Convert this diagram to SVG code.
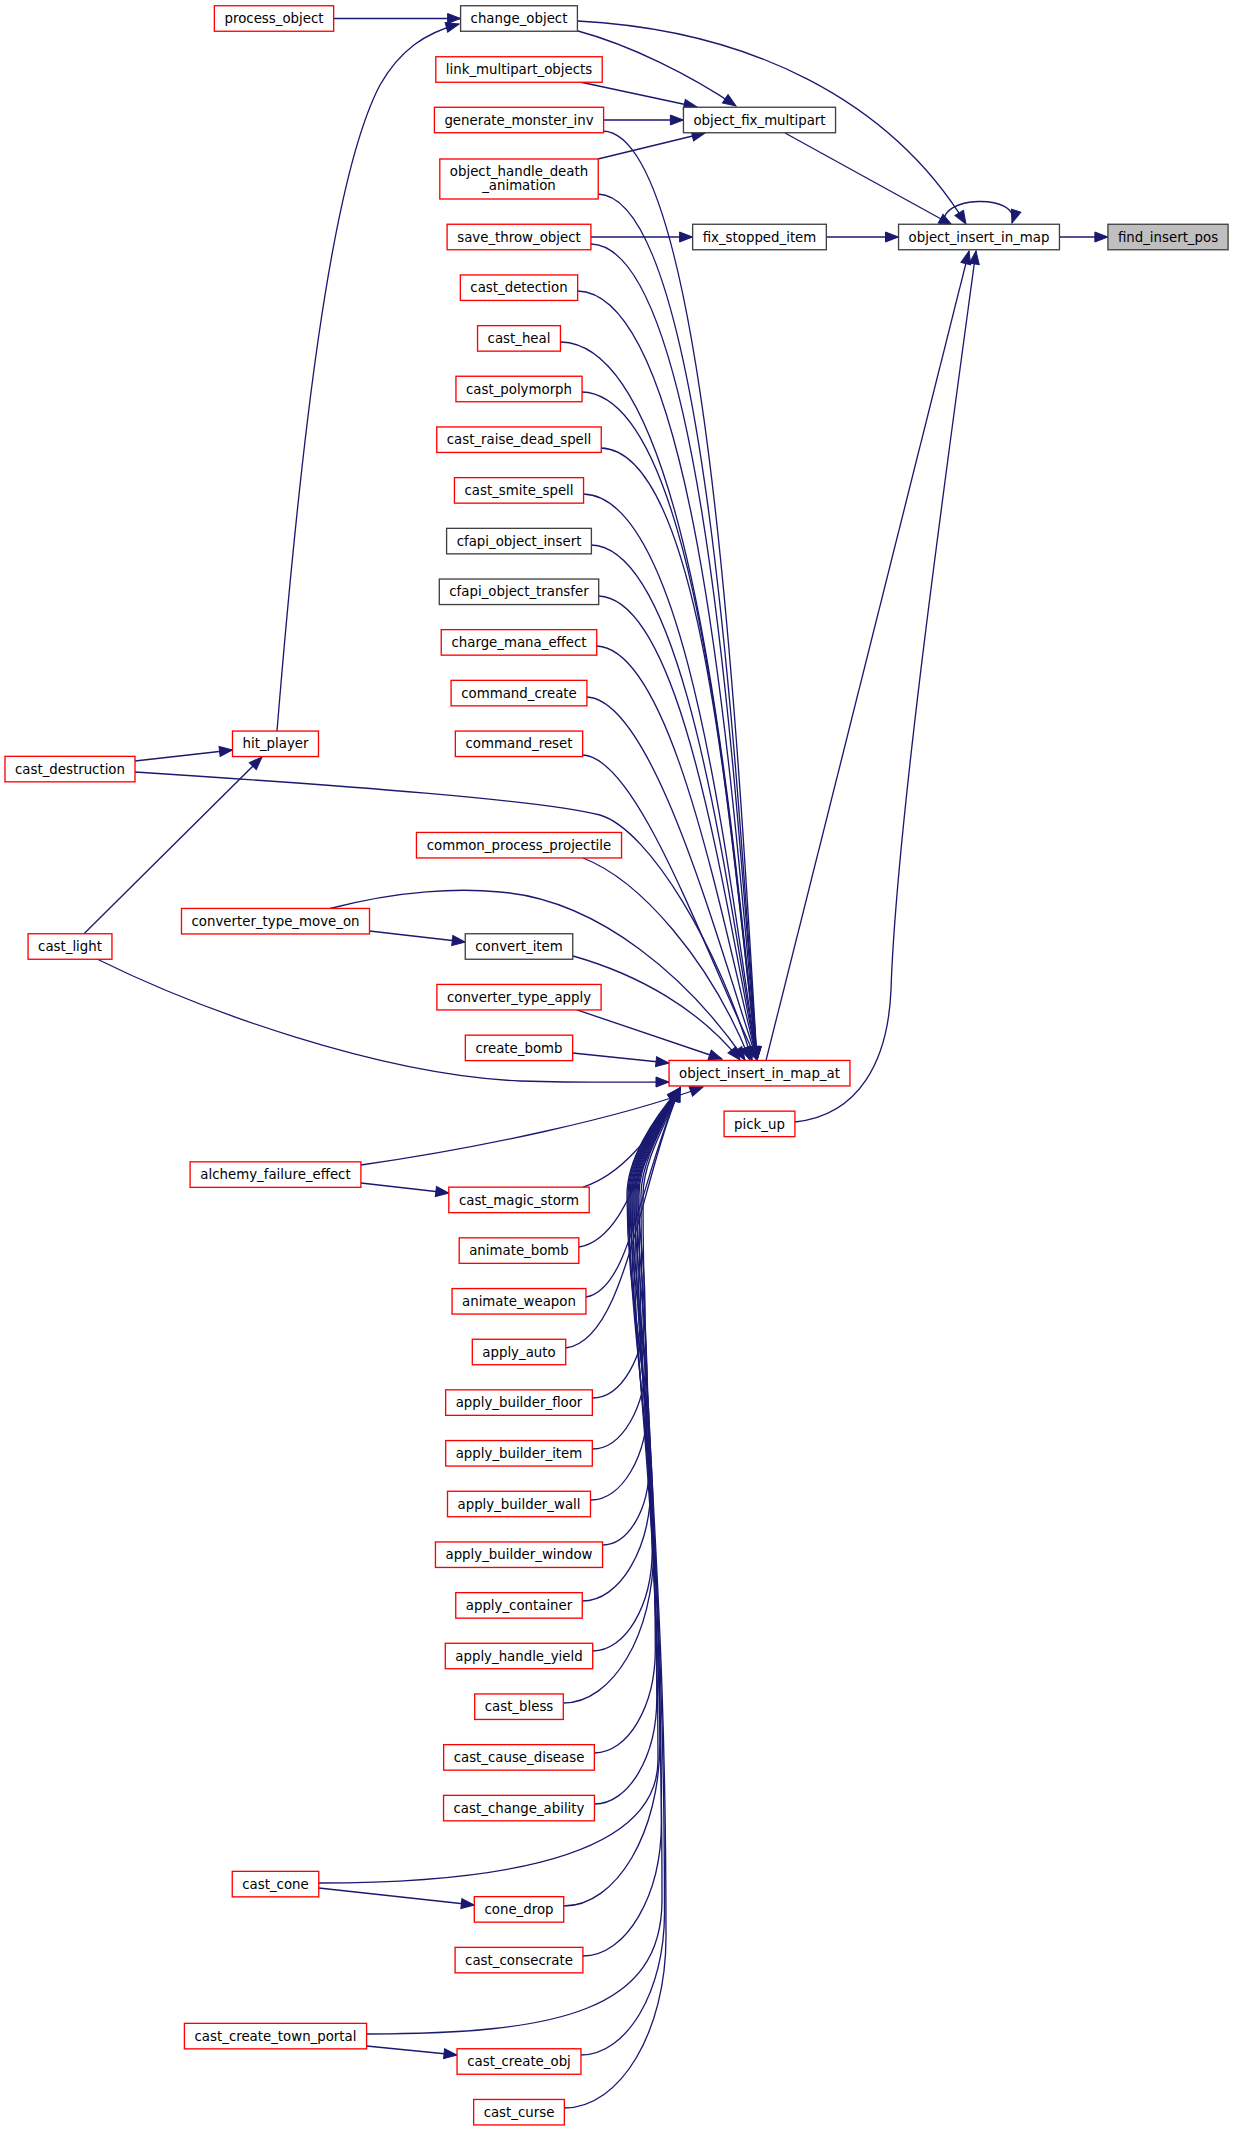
<svg xmlns="http://www.w3.org/2000/svg" width="1233" height="2131" viewBox="0 0 1233 2131">
<style>
rect{fill:#fff;stroke:#ff0000;stroke-width:1.33}
.k rect{stroke:#404040}
.g rect{fill:#bfbfbf}
text{font-family:"DejaVu Sans","Liberation Sans",sans-serif;font-size:13.33px;text-anchor:middle;fill:#000}
.e path{fill:none;stroke:#191970;stroke-width:1.33;marker-end:url(#a)}
</style>
<defs>
<marker id="a" markerUnits="userSpaceOnUse" markerWidth="15" markerHeight="12" viewBox="-1 -1 15 12" refX="13" refY="5" orient="auto" overflow="visible">
<path d="M0,0 L13,5 L0,10 Z" fill="#191970" stroke="#191970" stroke-width="1"/>
</marker>
</defs>
<rect x="0" y="0" width="1233" height="2131" style="fill:#fff;stroke:none"/>
<g class="e" id="edges">
<path d="M1059.5,237 L1107.9,237"/>
<path d="M826.4,237 L898.5,237"/>
<path d="M785,133 L952,225"/>
<path d="M577.4,21 C750,30 890,100 966,224"/>
<path d="M945,225 C935,195 1022,193 1012,223"/>
<path d="M766,1060.5 L969,251"/>
<path d="M794.9,1122 C860,1115 888,1060 891,990 C896,830 945,480 976,251"/>
<path d="M578,31 C630,45 690,75 736,106"/>
<path d="M580,82 L697,107"/>
<path d="M603.6,120 L683.4,120"/>
<path d="M598,159 L705,133"/>
<path d="M590.9,237 L692.6,237"/>
<path d="M333.7,18.5 L460.6,18.5"/>
<path d="M277,731 C300,450 330,180 380,85 C400,50 425,33 459,24"/>
<path d="M135,761 L232.5,750"/>
<path d="M84,933.7 L262,757"/>
<path d="M603,131 C705,134 737,725 757,1060"/>
<path d="M598,194 C703,197 735,748 757,1060"/>
<path d="M591,244 C701,247 734,766 757,1060"/>
<path d="M577.6,291 C696,294 732,783 757,1060"/>
<path d="M561,342 C690,345 729,801 757,1060"/>
<path d="M582,392 C697,395 729,819 757,1060"/>
<path d="M601,448 C704,451 730,839 757,1060"/>
<path d="M583.5,494 C686,497 726,856 757,1060"/>
<path d="M591.4,545 C684,548 725,874 757,1060"/>
<path d="M598.7,596 C682,599 723,892 757,1060"/>
<path d="M596.8,646 C671,649 720,910 757,1060"/>
<path d="M586.9,697 C652,700 714,929 757,1060"/>
<path d="M583,755 C638,758 704,950 757,1060"/>
<path d="M135,772 C350,786 540,800 600,815 C650,830 720,950 752,1060"/>
<path d="M583,858 C640,880 710,960 750,1060"/>
<path d="M330,908.5 C400,890 460,888 500,892 C600,900 690,980 745,1060"/>
<path d="M369.5,931 L465.2,942"/>
<path d="M573,956 C640,975 700,1010 740,1060"/>
<path d="M577,1009.9 L722,1059"/>
<path d="M572.6,1053 L669,1063"/>
<path d="M97,959 C200,1010 380,1075 520,1081 C590,1083 640,1082 669,1082"/>
<path d="M361,1165 C480,1148 620,1118 703,1087"/>
<path d="M361,1183 L448.8,1193"/>
<path d="M583,1187.2 C620,1175 650,1140 680,1088"/>
<path d="M578.8,1247 C625,1240 640,1160 680,1088"/>
<path d="M586,1297 C630,1290 640,1180 680,1088"/>
<path d="M565.7,1348 C625,1340 638,1190 680,1088"/>
<path d="M592.3,1398 C621,1398 645,1357.5 645,1308 C645,1251.5 638,1234.5 638,1195 C638,1160 663,1120 680,1088"/>
<path d="M592.3,1449 C621.7,1449 646,1407.6 646,1357 C646,1276 636,1251.7 636,1195 C636,1160 661,1120 680,1088"/>
<path d="M590.5,1500 C622,1500 647.6,1456.4 647.6,1403 C647.6,1299 634,1267.8 634,1195 C634,1160 659,1120 680,1088"/>
<path d="M602.5,1545 C628.2,1545 649.2,1509.5 649.2,1466 C649.2,1330.5 632,1289.9 632,1195 C632,1160 657,1120 680,1088"/>
<path d="M582.3,1601 C620,1601 650.7,1548.8 650.7,1485 C650.7,1340 630,1296.5 630,1195 C630,1160 655,1120 680,1088"/>
<path d="M592.7,1651 C625.4,1651 652.2,1605.5 652.2,1550 C652.2,1372.5 628,1319 628,1195 C628,1160 653,1120 680,1088"/>
<path d="M563.3,1703 C613,1703 653.7,1633.7 653.7,1549 C653.7,1372 627,1319 627,1195 C627,1160 652,1120 680,1088"/>
<path d="M594.4,1753 C627.9,1753 655.3,1706.4 655.3,1649.5 C655.3,1422 629,1354 629,1195 C629,1160 654,1120 680,1088"/>
<path d="M594.5,1804 C628.8,1804 656.8,1756.3 656.8,1698 C656.8,1446.5 631,1371 631,1195 C631,1160 656,1120 680,1088"/>
<path d="M318.8,1883 C520,1883 658,1850 658,1760 C658,1477.5 633,1393 633,1195 C633,1160 658,1120 680,1088"/>
<path d="M318.8,1888 L474.3,1905"/>
<path d="M563.7,1906 C616.6,1906 659.9,1832.4 659.9,1742.5 C659.9,1468.8 635,1386.6 635,1195 C635,1160 660,1120 680,1088"/>
<path d="M582.9,1956 C626.1,1956 661.4,1896 661.4,1822.5 C661.4,1508.8 637,1414.6 637,1195 C637,1160 662,1120 680,1088"/>
<path d="M366.6,2034 C560,2034 662,2010 662,1900 C662,1547.5 639,1441.8 639,1195 C639,1160 664,1120 680,1088"/>
<path d="M366.6,2046 L457,2055"/>
<path d="M581,2055 C627,2055 664.5,1991 664.5,1913 C664.5,1554 641,1446 641,1195 C641,1160 666,1120 680,1088"/>
<path d="M564.3,2108 C620.7,2108 666,2031 666,1937 C666,1566 643,1454.7 643,1195 C643,1160 668,1120 680,1088"/>
</g>
<g id="find_insert_pos" class="k g"><rect x="1107.9" y="224.25" width="120.2" height="25.5"/><text x="1168" y="241.6">find_insert_pos</text></g>
<g id="object_insert_in_map" class="k"><rect x="898.55" y="224.25" width="160.9" height="25.5"/><text x="979" y="241.6">object_insert_in_map</text></g>
<g id="fix_stopped_item" class="k"><rect x="692.65" y="224.25" width="133.7" height="25.5"/><text x="759.5" y="241.6">fix_stopped_item</text></g>
<g id="object_fix_multipart" class="k"><rect x="683.45" y="107.25" width="152.1" height="25.5"/><text x="759.5" y="124.6">object_fix_multipart</text></g>
<g id="object_insert_in_map_at"><rect x="669.05" y="1060.45" width="180.9" height="25.5"/><text x="759.5" y="1077.8">object_insert_in_map_at</text></g>
<g id="pick_up"><rect x="724.1" y="1111.15" width="70.8" height="25.5"/><text x="759.5" y="1128.5">pick_up</text></g>
<g id="process_object"><rect x="214.35" y="5.75" width="119.3" height="25.5"/><text x="274" y="23.1">process_object</text></g>
<g id="change_object" class="k"><rect x="460.6" y="5.75" width="116.8" height="25.5"/><text x="519" y="23.1">change_object</text></g>
<g id="link_multipart_objects"><rect x="435.8" y="56.75" width="166.4" height="25.5"/><text x="519" y="74.1">link_multipart_objects</text></g>
<g id="generate_monster_inv"><rect x="434.4" y="107.25" width="169.2" height="25.5"/><text x="519" y="124.6">generate_monster_inv</text></g>
<g id="object_handle_death_animation"><rect x="439.8" y="159" width="158.4" height="40"/><text x="519" y="175.5">object_handle_death</text><text x="519" y="189.5">_animation</text></g>
<g id="save_throw_object"><rect x="447.1" y="224.25" width="143.8" height="25.5"/><text x="519" y="241.6">save_throw_object</text></g>
<g id="cast_detection"><rect x="460.35" y="274.95" width="117.3" height="25.5"/><text x="519" y="292.3">cast_detection</text></g>
<g id="cast_heal"><rect x="477.55" y="325.65" width="82.9" height="25.5"/><text x="519" y="343">cast_heal</text></g>
<g id="cast_polymorph"><rect x="455.95" y="376.25" width="126.1" height="25.5"/><text x="519" y="393.6">cast_polymorph</text></g>
<g id="cast_raise_dead_spell"><rect x="436.75" y="426.95" width="164.5" height="25.5"/><text x="519" y="444.3">cast_raise_dead_spell</text></g>
<g id="cast_smite_spell"><rect x="454.45" y="477.65" width="129.1" height="25.5"/><text x="519" y="495">cast_smite_spell</text></g>
<g id="cfapi_object_insert" class="k"><rect x="446.6" y="528.35" width="144.8" height="25.5"/><text x="519" y="545.7">cfapi_object_insert</text></g>
<g id="cfapi_object_transfer" class="k"><rect x="439.3" y="579.05" width="159.4" height="25.5"/><text x="519" y="596.4">cfapi_object_transfer</text></g>
<g id="charge_mana_effect"><rect x="441.25" y="629.65" width="155.5" height="25.5"/><text x="519" y="647">charge_mana_effect</text></g>
<g id="command_create"><rect x="451.1" y="680.35" width="135.8" height="25.5"/><text x="519" y="697.7">command_create</text></g>
<g id="command_reset"><rect x="455.35" y="731.05" width="127.3" height="25.5"/><text x="519" y="748.4">command_reset</text></g>
<g id="hit_player"><rect x="232.5" y="731.05" width="86" height="25.5"/><text x="275.5" y="748.4">hit_player</text></g>
<g id="cast_destruction"><rect x="5" y="756.35" width="130" height="25.5"/><text x="70" y="773.7">cast_destruction</text></g>
<g id="common_process_projectile"><rect x="416.45" y="832.45" width="205.1" height="25.5"/><text x="519" y="849.8">common_process_projectile</text></g>
<g id="converter_type_move_on"><rect x="181.5" y="908.45" width="188" height="25.5"/><text x="275.5" y="925.8">converter_type_move_on</text></g>
<g id="convert_item" class="k"><rect x="465.25" y="933.75" width="107.5" height="25.5"/><text x="519" y="951.1">convert_item</text></g>
<g id="cast_light"><rect x="28.05" y="933.75" width="83.9" height="25.5"/><text x="70" y="951.1">cast_light</text></g>
<g id="converter_type_apply"><rect x="436.9" y="984.45" width="164.2" height="25.5"/><text x="519" y="1001.8">converter_type_apply</text></g>
<g id="create_bomb"><rect x="465.35" y="1035.15" width="107.3" height="25.5"/><text x="519" y="1052.5">create_bomb</text></g>
<g id="alchemy_failure_effect"><rect x="190.1" y="1161.85" width="170.8" height="25.5"/><text x="275.5" y="1179.2">alchemy_failure_effect</text></g>
<g id="cast_magic_storm"><rect x="448.8" y="1187.15" width="140.4" height="25.5"/><text x="519" y="1204.5">cast_magic_storm</text></g>
<g id="animate_bomb"><rect x="459.2" y="1237.85" width="119.6" height="25.5"/><text x="519" y="1255.2">animate_bomb</text></g>
<g id="animate_weapon"><rect x="452.05" y="1288.55" width="133.9" height="25.5"/><text x="519" y="1305.9">animate_weapon</text></g>
<g id="apply_auto"><rect x="472.3" y="1339.25" width="93.4" height="25.5"/><text x="519" y="1356.6">apply_auto</text></g>
<g id="apply_builder_floor"><rect x="445.65" y="1389.85" width="146.7" height="25.5"/><text x="519" y="1407.2">apply_builder_floor</text></g>
<g id="apply_builder_item"><rect x="445.7" y="1440.55" width="146.6" height="25.5"/><text x="519" y="1457.9">apply_builder_item</text></g>
<g id="apply_builder_wall"><rect x="447.5" y="1491.25" width="143" height="25.5"/><text x="519" y="1508.6">apply_builder_wall</text></g>
<g id="apply_builder_window"><rect x="435.45" y="1541.95" width="167.1" height="25.5"/><text x="519" y="1559.3">apply_builder_window</text></g>
<g id="apply_container"><rect x="455.75" y="1592.65" width="126.5" height="25.5"/><text x="519" y="1610">apply_container</text></g>
<g id="apply_handle_yield"><rect x="445.3" y="1643.25" width="147.4" height="25.5"/><text x="519" y="1660.6">apply_handle_yield</text></g>
<g id="cast_bless"><rect x="474.7" y="1693.95" width="88.6" height="25.5"/><text x="519" y="1711.3">cast_bless</text></g>
<g id="cast_cause_disease"><rect x="443.65" y="1744.65" width="150.7" height="25.5"/><text x="519" y="1762">cast_cause_disease</text></g>
<g id="cast_change_ability"><rect x="443.55" y="1795.35" width="150.9" height="25.5"/><text x="519" y="1812.7">cast_change_ability</text></g>
<g id="cast_cone"><rect x="232.25" y="1871.35" width="86.5" height="25.5"/><text x="275.5" y="1888.7">cast_cone</text></g>
<g id="cone_drop"><rect x="474.3" y="1896.65" width="89.4" height="25.5"/><text x="519" y="1914">cone_drop</text></g>
<g id="cast_consecrate"><rect x="455.1" y="1947.35" width="127.8" height="25.5"/><text x="519" y="1964.7">cast_consecrate</text></g>
<g id="cast_create_town_portal"><rect x="184.4" y="2023.35" width="182.2" height="25.5"/><text x="275.5" y="2040.7">cast_create_town_portal</text></g>
<g id="cast_create_obj"><rect x="457.05" y="2048.75" width="123.9" height="25.5"/><text x="519" y="2066.1">cast_create_obj</text></g>
<g id="cast_curse"><rect x="473.65" y="2099.45" width="90.7" height="25.5"/><text x="519" y="2116.8">cast_curse</text></g>
</svg>
